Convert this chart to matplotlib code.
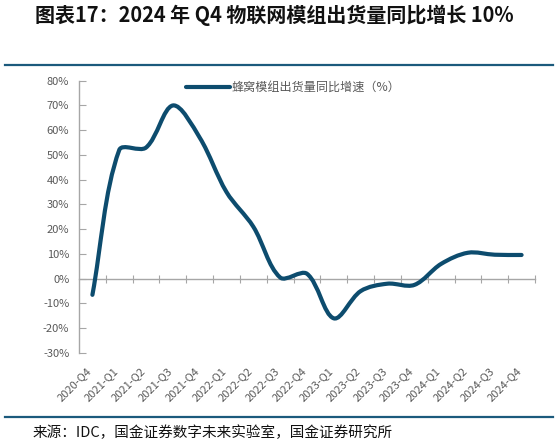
import numpy as np
import matplotlib
matplotlib.use("Agg")
import matplotlib.pyplot as plt
from matplotlib.path import Path
from matplotlib.patches import PathPatch
from matplotlib.lines import Line2D
from matplotlib.transforms import ScaledTranslation

plt.rcParams['font.family'] = ['Noto Sans CJK SC', 'DejaVu Sans']
plt.rcParams['axes.unicode_minus'] = False

# ---- data ----
quarters = ["2020-Q4", "2021-Q1", "2021-Q2", "2021-Q3", "2021-Q4",
            "2022-Q1", "2022-Q2", "2022-Q3", "2022-Q4",
            "2023-Q1", "2023-Q2", "2023-Q3", "2023-Q4",
            "2024-Q1", "2024-Q2", "2024-Q3", "2024-Q4"]
growth = [-6.5, 52, 53, 70, 57, 35, 21, 0.5, 2, -16, -5, -2, -2.5, 6, 10.5, 9.7, 9.6]
y_ticks = [-30, -20, -10, 0, 10, 20, 30, 40, 50, 60, 70, 80]
series_name = "蜂窝模组出货量同比增速（%）"
title = "图表17：2024 年 Q4 物联网模组出货量同比增长 10%"
source = "来源：IDC，国金证券数字未来实验室，国金证券研究所"

LINE_C = "#0D4C6E"
RULE_C = "#1B5A7C"
GREY = "#595959"
AX_C = "#A6A6A6"

W, H = 559, 446
fig = plt.figure(figsize=(W / 100, H / 100), dpi=100)
ax = fig.add_axes([79 / W, 1 - 353 / H, (535 - 79) / W, (353 - 80.7) / H])
ax.set_xlim(-0.5, len(quarters) - 0.5)
ax.set_ylim(-30, 80)

# ---- smoothed line (Excel-like Bezier smoothing) ----
x = np.arange(len(growth), dtype=float)
y = np.array(growth, dtype=float)
sy = 2.48 / 26.8  # screen aspect of one % vs one category
P = np.column_stack([x, y * sy])
n = len(P)
t = 0.5
verts = [tuple(P[0])]
codes = [Path.MOVETO]
for i in range(n - 1):
    p0 = P[i - 1] if i > 0 else P[i]
    p1 = P[i]
    p2 = P[i + 1]
    p3 = P[i + 2] if i + 2 < n else P[i + 1]
    d0 = np.linalg.norm(p1 - p0)
    d1 = np.linalg.norm(p2 - p1)
    d2 = np.linalg.norm(p3 - p2)
    f1 = d1 / (d0 + d1) if d0 + d1 > 0 else 0
    f2 = d1 / (d1 + d2) if d1 + d2 > 0 else 0
    c1 = p1 + t * (p2 - p0) * f1 * (2 / 3)
    c2 = p2 - t * (p3 - p1) * f2 * (2 / 3)
    verts += [tuple(c1), tuple(c2), tuple(p2)]
    codes += [Path.CURVE4] * 3
verts = np.array(verts)
verts[:, 1] /= sy
path = Path(verts, codes)
ax.add_patch(PathPatch(path, facecolor="none", edgecolor=LINE_C, lw=3.0,
                       capstyle="round", joinstyle="round", zorder=3))
handle = Line2D([], [], color=LINE_C, lw=3.0, solid_capstyle="round")

# ---- axes styling ----
for s in ["top", "right", "bottom"]:
    ax.spines[s].set_visible(False)
ax.spines["left"].set_color(AX_C)
ax.spines["left"].set_linewidth(1.0)
ax.set_yticks(y_ticks)
ax.set_yticklabels([f"{v}%" for v in y_ticks])
ax.tick_params(axis="y", direction="in", length=5, color=AX_C, labelsize=8,
               labelcolor=GREY, pad=7)
ax.set_xticks(x)
ax.set_xticklabels(quarters, rotation=45, ha="right", va="top",
                   rotation_mode="anchor")
ax.tick_params(axis="x", length=0, labelsize=8, labelcolor=GREY, pad=9)
for lab in ax.get_xticklabels():
    lab.set_transform(lab.get_transform() + ScaledTranslation(-6 / 100, 0, fig.dpi_scale_trans))

# zero axis line with ticks at category boundaries
sec = ax.secondary_xaxis(30 / 110)
sec.set_xticks(np.arange(0.5, len(quarters), 1.0))
sec.set_xticklabels([])
sec.tick_params(direction="inout", length=6, color=AX_C)
sec.spines["bottom"].set_color(AX_C)
sec.spines["bottom"].set_linewidth(1.0)
for s in ["top", "left", "right"]:
    if s in sec.spines:
        sec.spines[s].set_visible(False)

# legend
fig.legend([handle], [series_name], loc="center left",
           bbox_to_anchor=(186 / W, 1 - 87.5 / H), frameon=False,
           borderpad=0, borderaxespad=0, handlelength=3.6, handletextpad=0.15,
           prop={"size": 8.7}, labelcolor=GREY)

# title, rules, source
fig.text(35 / W, 1 - 15 / H, title, fontsize=14.4, fontweight="bold",
         ha="left", va="center", color="#111111")
fig.add_artist(Line2D([5 / W, 553 / W], [1 - 65.3 / H, 1 - 65.3 / H],
                      color=RULE_C, lw=1.6))
fig.add_artist(Line2D([5 / W, 553 / W], [1 - 416.5 / H, 1 - 416.5 / H],
                      color=RULE_C, lw=1.6))
fig.text(33 / W, 1 - 433 / H, source, fontsize=10.5, ha="left", va="center",
         color="#111111")

fig.savefig("out.png", dpi=100)
